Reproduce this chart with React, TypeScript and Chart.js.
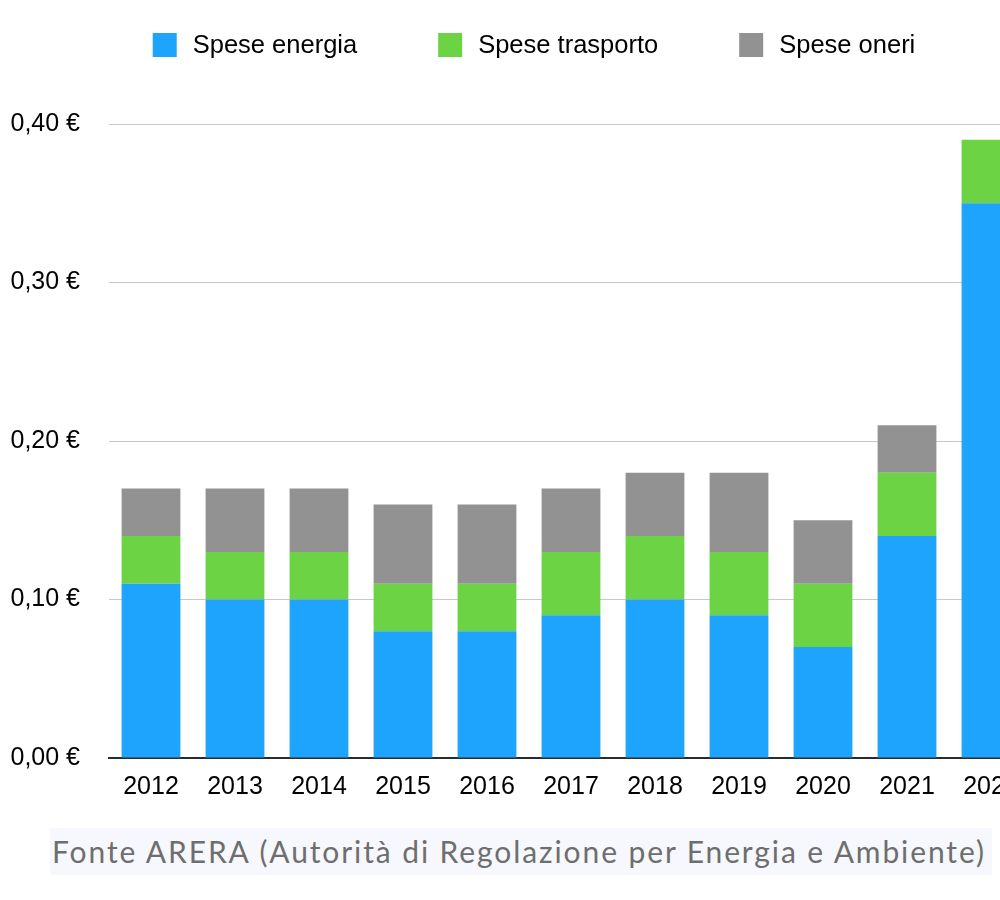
import React, { useEffect, useRef } from "react";
import { Chart, registerables } from "chart.js";

Chart.register(...registerables);

const years = ["2012", "2013", "2014", "2015", "2016", "2017", "2018", "2019", "2020", "2021", "2022"];
const speseEnergia = [0.11, 0.10, 0.10, 0.08, 0.08, 0.09, 0.10, 0.09, 0.07, 0.14, 0.35];
const speseTrasporto = [0.03, 0.03, 0.03, 0.03, 0.03, 0.04, 0.04, 0.04, 0.04, 0.04, 0.04];
const speseOneri = [0.03, 0.04, 0.04, 0.05, 0.05, 0.04, 0.04, 0.05, 0.04, 0.03, 0.0];
const seriesLabels = ["Spese energia", "Spese trasporto", "Spese oneri"];
const seriesColors = ["#1ea4fc", "#6cd444", "#929292"];
const sourceNote = "Fonte ARERA (Autorità di Regolazione per Energia e Ambiente)";

const FONT = "'Liberation Sans', Arial, Helvetica, sans-serif";

const legendPlugin = {
  id: "topLegend",
  afterDraw(chart: any) {
    const ctx = chart.ctx;
    ctx.save();
    ctx.font = `25.5px ${FONT}`;
    const box = 24;
    const gapText = 16;
    const gapItem = 81;
    const items = chart.data.datasets.map((d: any) => ({
      text: d.label,
      color: d.backgroundColor,
      w: ctx.measureText(d.label).width,
    }));
    let total = 0;
    items.forEach((it: any, i: number) => {
      total += box + gapText + it.w + (i < items.length - 1 ? gapItem : 0);
    });
    let x = chart.width / 2 - total / 2;
    const top = 33;
    items.forEach((it: any) => {
      ctx.fillStyle = it.color;
      ctx.fillRect(x, top, box, box);
      ctx.fillStyle = "#000";
      ctx.textBaseline = "middle";
      ctx.textAlign = "left";
      ctx.fillText(it.text, x + box + gapText, top + box / 2 + 1);
      x += box + gapText + it.w + gapItem;
    });
    ctx.restore();
  },
};

export default function App() {
  const ref = useRef<HTMLCanvasElement | null>(null);

  useEffect(() => {
    document.body.style.margin = "0";
    if (!ref.current) return;
    const chart = new Chart(ref.current, {
      type: "bar",
      data: {
        labels: years,
        datasets: [
          { label: seriesLabels[0], data: speseEnergia, backgroundColor: seriesColors[0] },
          { label: seriesLabels[1], data: speseTrasporto, backgroundColor: seriesColors[1] },
          { label: seriesLabels[2], data: speseOneri, backgroundColor: seriesColors[2] },
        ],
      },
      options: {
        responsive: false,
        animation: false,
        devicePixelRatio: 1,
        datasets: { bar: { categoryPercentage: 1, barPercentage: 0.70 } },
        layout: { padding: { top: 124, right: 35, bottom: 11, left: 0 } },
        plugins: {
          legend: { display: false },
          tooltip: { enabled: false },
        },
        scales: {
          x: {
            stacked: true,
            grid: { display: false, drawTicks: false },
            border: { display: true, color: "#2b2b2b", width: 2 },
            ticks: { color: "#000", font: { family: FONT, size: 25 }, padding: 14, maxRotation: 0 },
          },
          y: {
            stacked: true,
            min: 0,
            max: 0.4,
            afterFit(scale: any) {
              scale.width = 109;
            },
            grid: { color: "#c8c8c8", lineWidth: 1, drawTicks: false },
            border: { display: false },
            ticks: {
              stepSize: 0.1,
              padding: 29,
              color: "#000",
              font: { family: FONT, size: 25 },
              callback: (v: any) => Number(v).toFixed(2).replace(".", ",") + " €",
            },
          },
        },
      },
      plugins: [legendPlugin],
    });
    return () => chart.destroy();
  }, []);

  return (
    <div style={{ position: "relative", width: 1000, height: 900, overflow: "hidden", background: "#fff" }}>
      <canvas ref={ref} width={1068} height={827} style={{ position: "absolute", left: 0, top: 0 }} />
      <div
        style={{
          position: "absolute",
          left: 50,
          top: 828,
          width: 942,
          height: 47,
          background: "#f6f8fd",
          color: "#6e6e6e",
          fontFamily: "Lato, 'Open Sans', sans-serif",
          fontSize: 30,
          letterSpacing: "1.9px",
          lineHeight: "47px",
          paddingLeft: 2,
          boxSizing: "border-box",
          whiteSpace: "nowrap",
        }}
      >
        {sourceNote}
      </div>
    </div>
  );
}
